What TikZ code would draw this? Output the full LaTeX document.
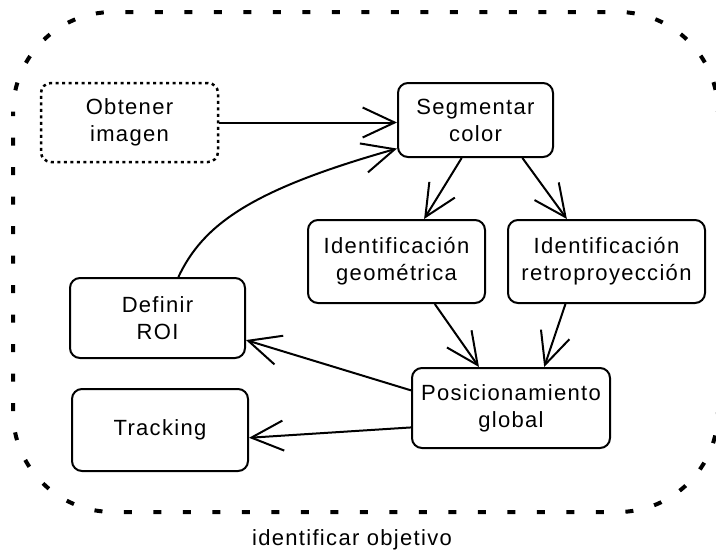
\documentclass[tikz,border=0pt]{standalone}
\usepackage{fontspec}
\setmainfont{Liberation Sans}[LetterSpace=6]
\usetikzlibrary{arrows.meta}

\begin{document}
\begin{tikzpicture}[x=1pt, y=-1pt, line width=2pt,
  caja/.style={draw, rounded corners=10pt, align=center, inner sep=0pt,
    font=\fontsize{22}{27}\selectfont},
  flecha/.style={-{Straight Barb[length=32pt,width=30pt]}, line join=round}]
\clip (0,0) rectangle (716,557);
\draw[line width=4pt, dash pattern=on 8pt off 21.5pt, dash phase=4pt, rounded corners=100pt]
  (13,12) rectangle (718,512);
\node[caja, line width=2.5pt, dash pattern=on 3pt off 3.5pt, minimum width=177pt, minimum height=79pt] (obtener) at (129.5,122.5) {Obtener\\imagen};
\node[caja, minimum width=155pt, minimum height=74pt] (segmentar) at (475.5,120) {Segmentar\\color};
\node[caja, minimum width=177pt, minimum height=83pt] (geometrica) at (396.5,261.5) {Identificación\\geométrica};
\node[caja, minimum width=197pt, minimum height=83pt] (retro) at (606.5,261.5) {Identificación\\retroproyección};
\node[caja, minimum width=175pt, minimum height=80pt] (roi) at (157.5,318) {Definir\\ROI};
\node[caja, minimum width=176pt, minimum height=82pt] (tracking) at (160,430) {Tracking};
\node[caja, minimum width=198pt, minimum height=80pt] (posicion) at (511,408) {Posicionamiento\\global};
\node[font=\fontsize{22}{27}\selectfont] (titulo) at (352,540) {identificar objetivo};
\draw[flecha] (obtener.east) -- (obtener.east -| segmentar.west);
\draw[flecha] (roi.63) .. controls (203,225) and (250,190) .. (segmentar.200);
\draw[flecha] (segmentar.250) -- (geometrica.57);
\draw[flecha] (segmentar.321) -- (retro.133);
\draw[flecha] (geometrica.312) -- (posicion.128);
\draw[flecha] (retro.226) -- (posicion.51);
\draw[flecha] (posicion.170) -- (roi.346);
\draw[flecha] (posicion.191) -- (tracking.355);
\end{tikzpicture}
\end{document}
